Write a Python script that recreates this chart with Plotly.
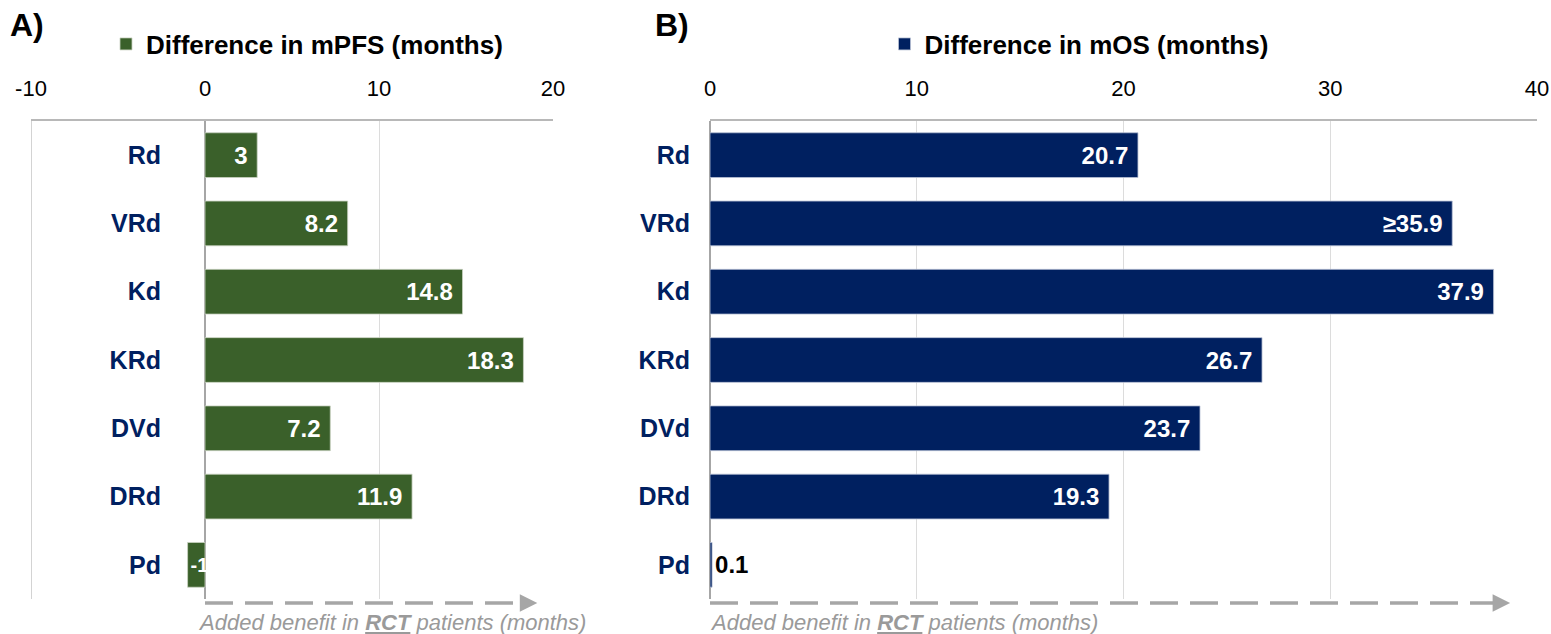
import plotly.graph_objects as go

# ---- data ----
categories = ["Rd", "VRd", "Kd", "KRd", "DVd", "DRd", "Pd"]
pfs_diff = [3, 8.2, 14.8, 18.3, 7.2, 11.9, -1]
pfs_labels = ["3", "8.2", "14.8", "18.3", "7.2", "11.9", "-1"]
os_diff = [20.7, 35.9, 37.9, 26.7, 23.7, 19.3, 0.1]
os_labels = ["20.7", "≥35.9", "37.9", "26.7", "23.7", "19.3", "0.1"]
pfs_ticks = [-10, 0, 10, 20]
pfs_ticktext = ["-10", "0", "10", "20"]
os_ticks = [0, 10, 20, 30, 40]
os_ticktext = ["0", "10", "20", "30", "40"]

GREEN = "#3A602A"
NAVY = "#002060"
FONT = "Liberation Sans, Arial, sans-serif"
W, H = 1551, 634
M_T, M_B = 121, 634 - 599
PH = H - M_T - M_B
NB = "\u00a0"


def px(x):
    return x / W


fig = go.Figure()

pfs_sizes = [24 if v > 0 else 20 for v in pfs_diff]
pfs_text = [t + NB if v > 0 else t for t, v in zip(pfs_labels, pfs_diff)]
fig.add_trace(go.Bar(
    x=pfs_diff, y=categories, orientation="h",
    marker=dict(color=GREEN, line=dict(color="#c9d2c2", width=0.8)),
    text=pfs_text, textposition="inside", insidetextanchor="end",
    constraintext="none",
    textfont=dict(color="white", size=pfs_sizes, family=FONT, weight="bold"),
    name="Difference in mPFS (months)", legend="legend",
    xaxis="x", yaxis="y", hoverinfo="x+y",
))

os_pos = ["outside" if v < 1 else "inside" for v in os_diff]
os_col = ["black" if v < 1 else "white" for v in os_diff]
os_text = [t if v < 1 else t + NB for t, v in zip(os_labels, os_diff)]
fig.add_trace(go.Bar(
    x=os_diff, y=categories, orientation="h",
    marker=dict(color=NAVY, line=dict(color="#b8c0d4", width=0.8)),
    text=os_text, textposition=os_pos, insidetextanchor="end",
    textfont=dict(color=os_col, size=24, family=FONT, weight="bold"),
    cliponaxis=False,
    name="Difference in mOS (months)", legend="legend2",
    xaxis="x2", yaxis="y2", hoverinfo="x+y",
))

axis_common = dict(
    side="top", showline=True, linecolor="#b8b8b8", linewidth=2,
    showgrid=True, gridcolor="#dcdcdc", gridwidth=1,
    zeroline=True, zerolinecolor="#a6a6a6", zerolinewidth=2,
    ticks="", tickfont=dict(size=22, family=FONT, color="black"),
    ticklabelstandoff=14, fixedrange=True, automargin=False,
)
ycommon = dict(
    categoryorder="array", categoryarray=categories, autorange="reversed",
    showgrid=False, zeroline=False, showline=False, ticks="",
    tickfont=dict(size=25, family=FONT, color=NAVY, weight="bold"),
    domain=[0, 1], automargin=False, fixedrange=True,
)

leg_y = 1 + (121 - 44) / PH
fig.update_layout(
    width=W, height=H,
    margin=dict(l=0, r=0, t=M_T, b=M_B, autoexpand=False),
    paper_bgcolor="white", plot_bgcolor="white",
    bargap=0.345,
    font=dict(family=FONT),
    xaxis=dict(domain=[px(31), px(553)], range=[-10, 20], tickvals=pfs_ticks,
               ticktext=pfs_ticktext, anchor="y", **axis_common),
    yaxis=dict(anchor="free", position=px(161), ticklabelstandoff=0, **ycommon),
    xaxis2=dict(domain=[px(710), px(1537)], range=[0, 40], tickvals=os_ticks,
                ticktext=os_ticktext, anchor="y2", **axis_common),
    yaxis2=dict(anchor="x2", ticklabelstandoff=19, **ycommon),
    legend=dict(x=px(307), xanchor="center", y=leg_y, yanchor="middle",
                orientation="h", font=dict(size=26, family=FONT, color="black", weight="bold"),
                bgcolor="rgba(0,0,0,0)", itemwidth=30),
    legend2=dict(x=px(1079), xanchor="center", y=leg_y, yanchor="middle",
                 orientation="h", font=dict(size=26, family=FONT, color="black", weight="bold"),
                 bgcolor="rgba(0,0,0,0)", itemwidth=30),
    showlegend=True,
)

# left border of panel A at -10
fig.add_shape(type="line", xref="x", yref="y domain", x0=-10, x1=-10, y0=0, y1=1,
              line=dict(color="#c4c4c4", width=1.5))

# dashed arrows + captions
line_y = -(603 - 599) / PH
cap_y = -(622 - 599) / PH
for xr, yr, x_end, shift in [("x", "y", 19.1, -9), ("x2", "y2", 38.7, -2)]:
    fig.add_shape(type="line", xref=xr, yref=yr + " domain", x0=0, x1=x_end - 0.4,
                  y0=line_y, y1=line_y,
                  line=dict(color="#a6a6a6", width=3.5, dash="28px,12px"))
    fig.add_annotation(xref=xr, yref=yr + " domain", x=x_end, y=line_y,
                       ax=-8, ay=0, axref="pixel", ayref="pixel",
                       showarrow=True, arrowhead=2, arrowsize=1, arrowwidth=3.5,
                       arrowcolor="#a6a6a6", text="")
    fig.add_annotation(xref=xr, yref=yr + " domain", x=0, y=cap_y,
                       xanchor="left", yanchor="middle", xshift=shift, showarrow=False,
                       text="<i>Added benefit in <b><u>RCT</u></b> patients (months)</i>",
                       font=dict(size=22, family=FONT, color="#9a9a9a"))

# panel labels
for lbl, lx in [("A)", 10), ("B)", 655)]:
    fig.add_annotation(xref="paper", yref="paper", x=px(lx - 2), y=1 + (121 - 25) / PH,
                       xanchor="left", yanchor="middle", showarrow=False,
                       text="<b>%s</b>" % lbl, font=dict(size=32, family=FONT, color="black"))

fig.write_html("out.html", config={"displayModeBar": False},
               post_script="document.body.style.margin='0';")
